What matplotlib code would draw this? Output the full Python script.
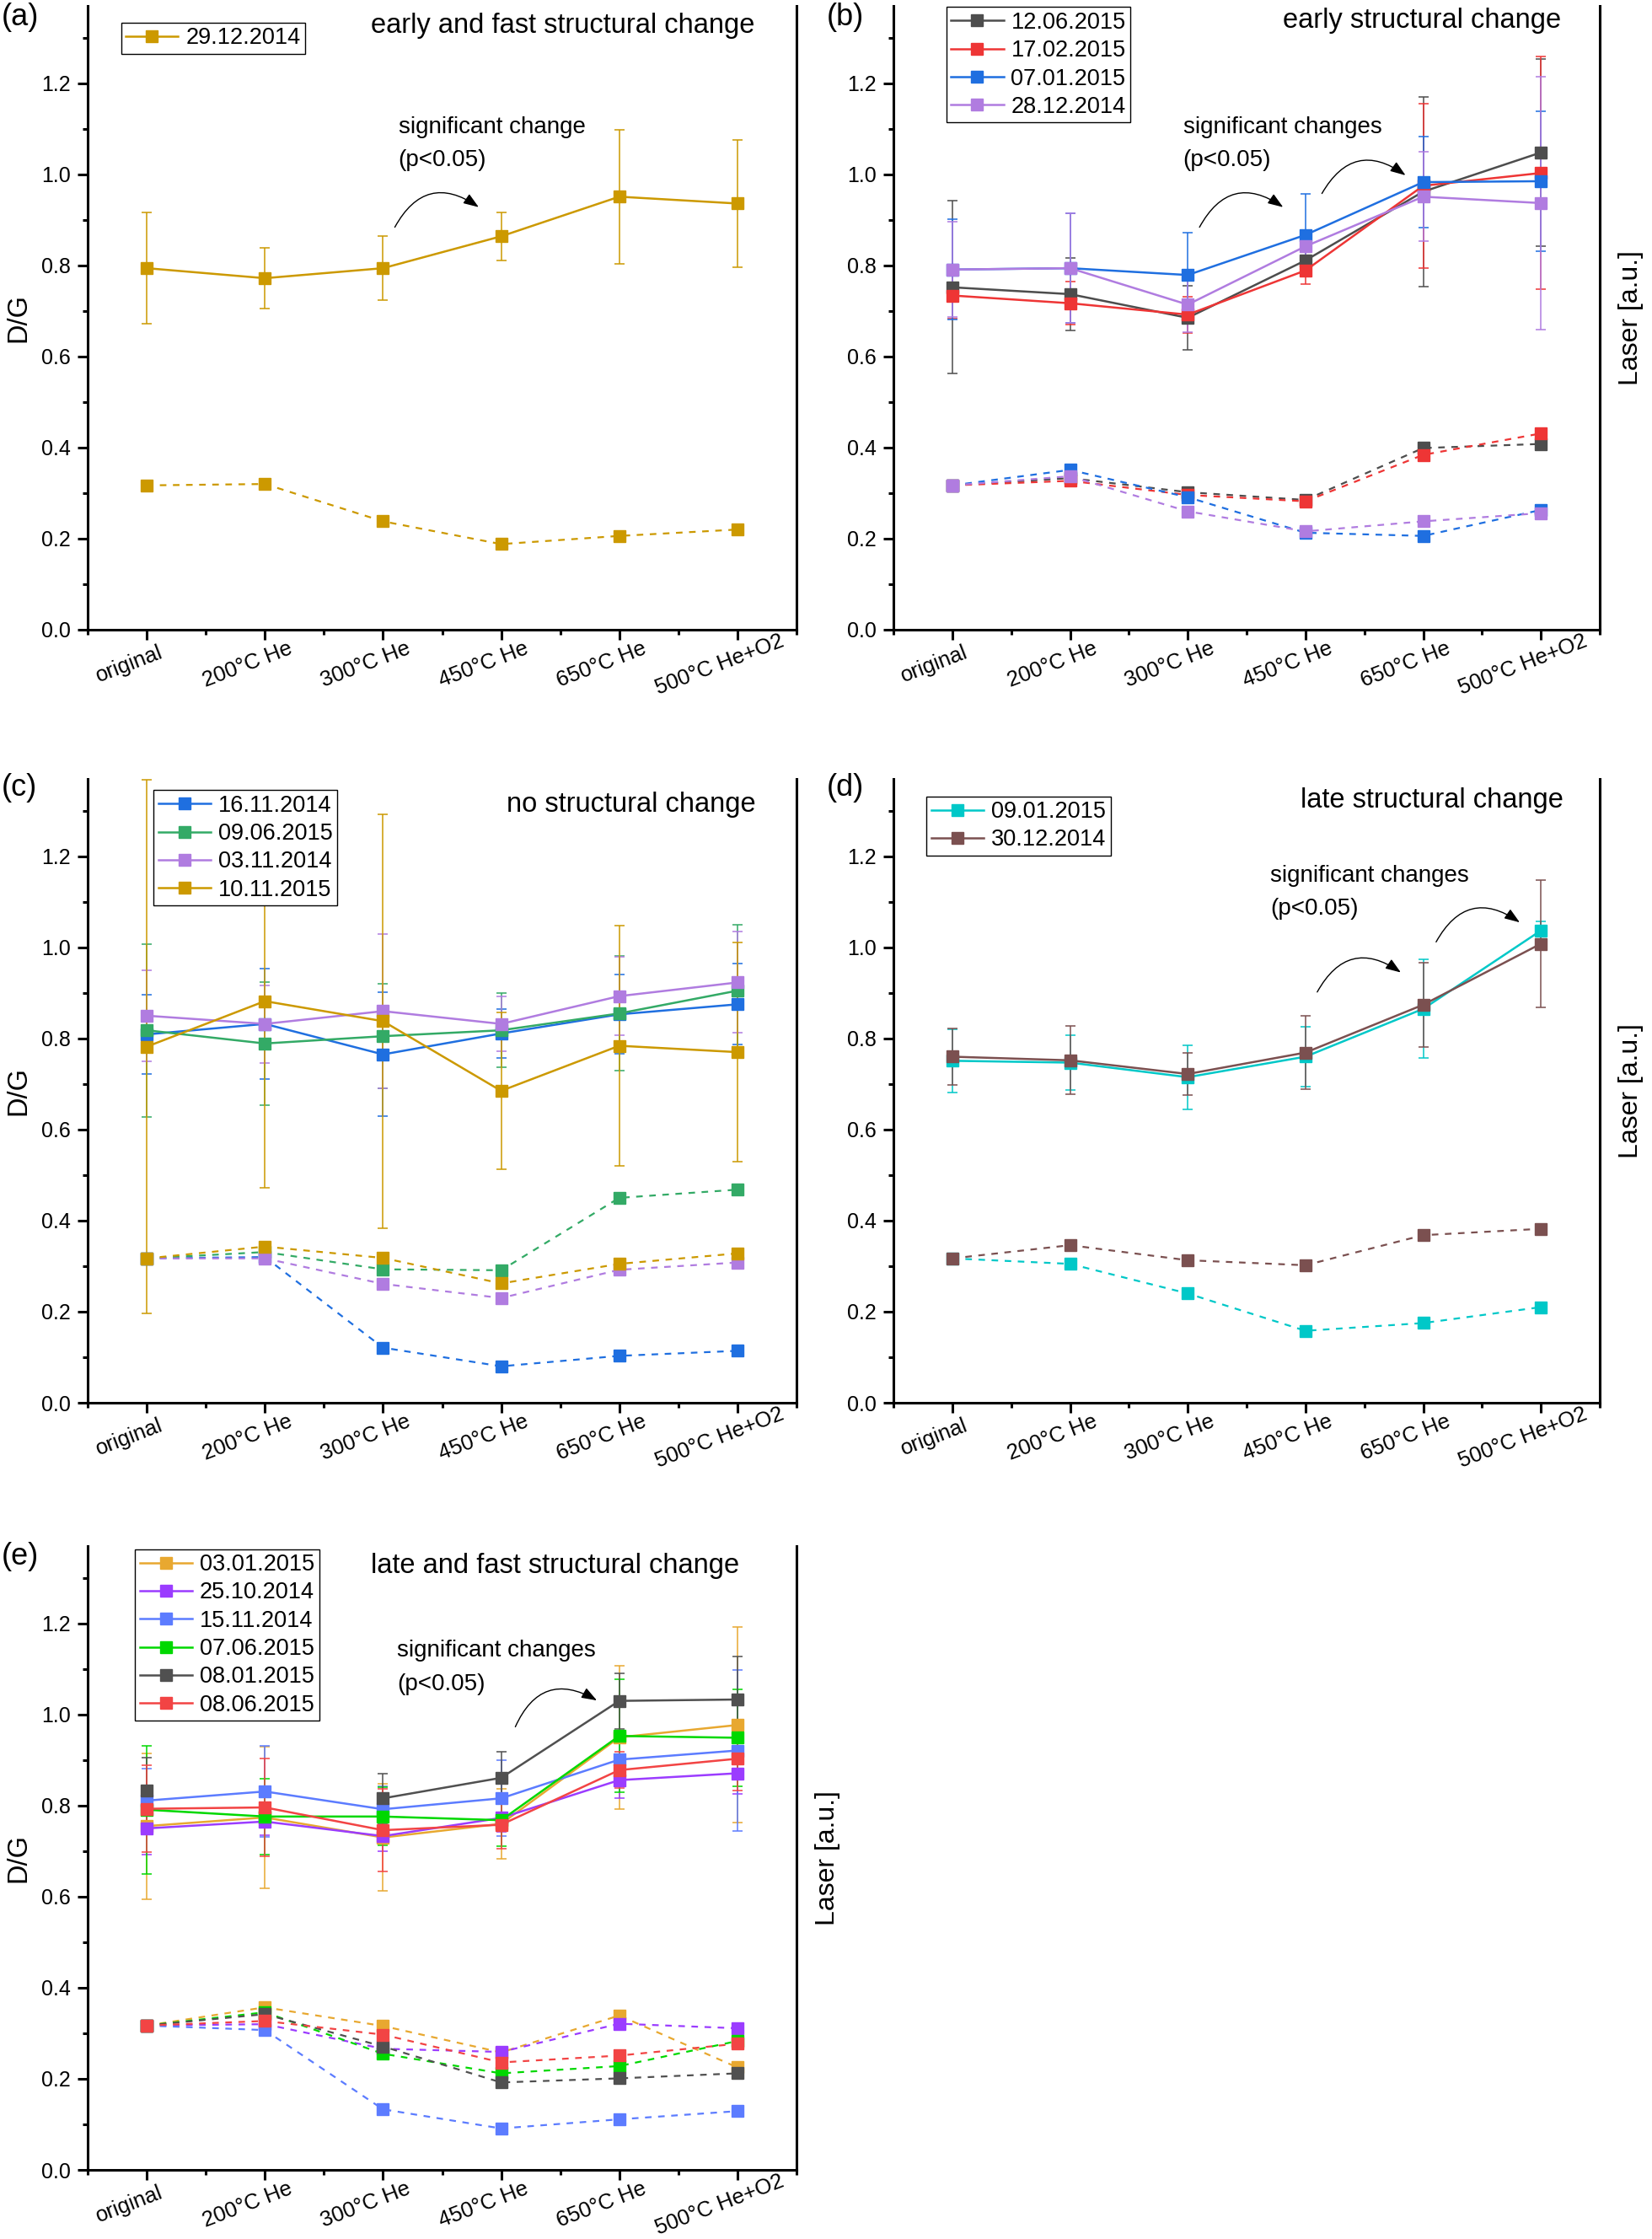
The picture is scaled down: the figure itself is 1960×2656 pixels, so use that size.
import numpy as np
import matplotlib
matplotlib.use('Agg')
import matplotlib.pyplot as plt
from matplotlib.transforms import ScaledTranslation

plt.rcParams['font.family'] = ['Liberation Sans', 'DejaVu Sans']

categories = ['original', '200°C He', '300°C He', '450°C He', '650°C He', '500°C He+O2']
nan = np.nan

# ---------------- panel (a) ----------------
a_labels = ['29.12.2014']
a_colors = ['#CC9900']
a_dg_1 = [0.794, 0.772, 0.794, 0.864, 0.951, 0.936]
a_err_1 = [0.122, 0.067, 0.070, 0.053, 0.147, 0.140]
a_laser_1 = [0.317, 0.320, 0.238, 0.188, 0.206, 0.220]

# ---------------- panel (b) ----------------
b_labels = ['12.06.2015', '17.02.2015', '07.01.2015', '28.12.2014']
b_colors = ['#4D4D4D', '#EE3535', '#1F6FE0', '#B07CE0']
b_dg_1 = [0.752, 0.737, 0.685, 0.811, 0.962, 1.048]
b_err_1 = [0.190, 0.079, 0.070, 0.035, 0.208, 0.206]
b_laser_1 = [0.317, 0.333, 0.302, 0.285, 0.399, 0.408]
b_dg_2 = [0.734, 0.717, 0.692, 0.789, 0.975, 1.003]
b_err_2 = [0.050, 0.047, 0.040, 0.030, 0.180, 0.255]
b_laser_2 = [0.317, 0.327, 0.296, 0.282, 0.384, 0.431]
b_dg_3 = [0.791, 0.794, 0.779, 0.867, 0.983, 0.985]
b_err_3 = [0.110, 0.120, 0.093, 0.090, 0.100, 0.153]
b_laser_3 = [0.317, 0.351, 0.291, 0.213, 0.206, 0.263]
b_dg_4 = [0.791, 0.794, 0.714, 0.842, 0.951, 0.937]
b_err_4 = [0.105, 0.120, 0.060, 0.030, 0.098, 0.277]
b_laser_4 = [0.317, 0.337, 0.260, 0.216, 0.238, 0.256]

# ---------------- panel (c) ----------------
c_labels = ['16.11.2014', '09.06.2015', '03.11.2014', '10.11.2015']
c_colors = ['#1F6FE0', '#33AA66', '#B07CE0', '#CC9900']
c_dg_1 = [0.809, 0.832, 0.765, 0.811, 0.853, 0.875]
c_err_1 = [0.087, 0.122, 0.136, 0.053, 0.087, 0.089]
c_laser_1 = [0.317, 0.320, 0.121, 0.080, 0.103, 0.114]
c_dg_2 = [0.818, 0.789, 0.805, 0.818, 0.855, 0.905]
c_err_2 = [0.190, 0.135, 0.115, 0.081, 0.126, 0.145]
c_laser_2 = [0.317, 0.331, 0.293, 0.291, 0.450, 0.468]
c_dg_3 = [0.850, 0.832, 0.860, 0.832, 0.893, 0.923]
c_err_3 = [0.100, 0.085, 0.170, 0.060, 0.086, 0.111]
c_laser_3 = [0.317, 0.317, 0.261, 0.230, 0.292, 0.308]
c_dg_4 = [0.782, 0.882, 0.838, 0.685, 0.784, 0.770]
c_err_4 = [0.586, 0.409, 0.455, 0.172, 0.263, 0.241]
c_laser_4 = [0.317, 0.343, 0.318, 0.262, 0.305, 0.328]

# ---------------- panel (d) ----------------
d_labels = ['09.01.2015', '30.12.2014']
d_colors = ['#00C8C8', '#7B5050']
d_dg_1 = [0.751, 0.747, 0.715, 0.760, 0.865, 1.037]
d_err_1 = [0.070, 0.060, 0.070, 0.066, 0.108, 0.020]
d_laser_1 = [0.317, 0.305, 0.240, 0.158, 0.175, 0.210]
d_dg_2 = [0.760, 0.752, 0.722, 0.769, 0.874, 1.008]
d_err_2 = [0.062, 0.075, 0.047, 0.080, 0.092, 0.139]
d_laser_2 = [0.317, 0.346, 0.313, 0.302, 0.368, 0.382]

# ---------------- panel (e) ----------------
e_labels = ['03.01.2015', '25.10.2014', '15.11.2014', '07.06.2015', '08.01.2015', '08.06.2015']
e_colors = ['#E8A830', '#9B3CFF', '#5C7CFF', '#00D800', '#505050', '#F24444']
e_dg_1 = [0.755, 0.774, 0.730, 0.760, 0.950, 0.977]
e_err_1 = [0.160, 0.155, 0.117, 0.077, 0.158, 0.215]
e_laser_1 = [0.317, 0.357, 0.316, 0.258, 0.339, 0.225]
e_dg_2 = [0.750, 0.765, 0.733, 0.773, 0.856, 0.871]
e_err_2 = [0.058, 0.030, 0.034, 0.030, 0.040, 0.046]
e_laser_2 = [0.317, 0.320, 0.266, 0.259, 0.321, 0.311]
e_dg_3 = [0.811, 0.831, 0.792, 0.816, 0.901, 0.921]
e_err_3 = [0.071, 0.100, 0.050, 0.083, 0.050, 0.177]
e_laser_3 = [0.317, 0.307, 0.133, 0.091, 0.111, 0.129]
e_dg_4 = [0.791, 0.776, 0.776, 0.768, 0.953, 0.949]
e_err_4 = [0.141, 0.083, 0.064, 0.058, 0.124, 0.106]
e_laser_4 = [0.317, 0.346, 0.255, 0.212, 0.228, 0.283]
e_dg_5 = [0.833, nan, 0.816, 0.861, 1.030, 1.033]
e_err_5 = [0.072, nan, 0.055, 0.057, 0.061, 0.095]
e_laser_5 = [0.317, 0.342, 0.271, 0.192, 0.201, 0.212]
e_dg_6 = [0.793, 0.796, 0.746, 0.758, 0.878, 0.903]
e_err_6 = [0.095, 0.108, 0.090, 0.052, 0.040, 0.070]
e_laser_6 = [0.317, 0.327, 0.297, 0.236, 0.251, 0.277]

W, H = 1960, 2656
fig = plt.figure(figsize=(W / 100, H / 100), dpi=100)

AX_H = 740
COL_L = {0: (104, 841), 1: (1060, 838)}
ROW_B = {0: 747, 1: 1664, 2: 2574}


def rect(col, row):
    l, w = COL_L[col]
    b = ROW_B[row]
    return [l / W, 1 - b / H, w / W, AX_H / H]


def draw_panel(r, labels, colors, dgs, errs, lasers, title, title_x, title_y,
               leg_anchor, sig_text=None, sig_xy=None, arrows=(), laser_label=False,
               dg_label=True):
    ax = fig.add_axes(r)
    x = np.arange(len(categories))
    handles = []
    for lab, c, d, e in zip(labels, colors, dgs, errs):
        ax.errorbar(x, d, yerr=e, fmt='none', ecolor=c, elinewidth=1.1,
                    capsize=4.5, capthick=1.1, zorder=2)
        ln, = ax.plot(x, d, '-s', color=c, lw=1.8, ms=9.4, label=lab, zorder=3)
        handles.append(ln)
    for c, l in zip(colors, lasers):
        ax.plot(x, l, color=c, lw=1.6, ls=(0, (3.5, 3.5)), marker='s', ms=9.4,
                zorder=3)
    ax.set_xlim(-0.5, 5.5)
    ax.set_ylim(0, 1.37)
    ax.set_yticks(np.arange(0, 1.21, 0.2))
    ax.set_yticklabels(['%.1f' % v for v in np.arange(0, 1.21, 0.2)])
    ax.set_yticks(np.arange(0.1, 1.36, 0.2), minor=True)
    ax.set_xticks(x)
    ax.set_xticks(np.arange(-0.5, 5.6, 1.0), minor=True)
    ax.set_xticklabels(categories)
    ax.spines['top'].set_visible(False)
    for s in ['left', 'bottom', 'right']:
        ax.spines[s].set_linewidth(2.2)
    ax.tick_params(which='major', direction='out', length=8.6, width=2.2,
                   labelsize=18.5, right=False, top=False)
    ax.tick_params(which='minor', direction='out', length=4.3, width=2.2,
                   right=False, top=False)
    ax.tick_params(axis='y', pad=6.0, labelsize=18)
    ax.tick_params(axis='x', pad=21.0)
    off = ScaledTranslation(-0.21, 0, fig.dpi_scale_trans)
    for lab in ax.get_xticklabels():
        lab.set_rotation(21)
        lab.set_ha('center')
        lab.set_va('center')
        lab.set_transform(lab.get_transform() + off)
    if dg_label:
        ax.set_ylabel('D/G', fontsize=23.5, labelpad=8)
    leg = ax.legend(handles=handles, loc='upper left', bbox_to_anchor=leg_anchor,
                    borderaxespad=0, frameon=True, fancybox=False,
                    edgecolor='black', framealpha=1, fontsize=19.5,
                    handlelength=2.3, handletextpad=0.33, borderpad=0.2,
                    labelspacing=0.27, numpoints=1)
    leg.get_frame().set_linewidth(1.0)
    leg.set_zorder(10)
    ax.text(title_x, title_y, title, ha='center', va='center', fontsize=23.5)
    if sig_text:
        ax.text(sig_xy[0], sig_xy[1], sig_text, ha='left', va='center', fontsize=20)
        ax.text(sig_xy[0], sig_xy[2], '(p<0.05)', ha='left', va='center', fontsize=20)
    for (sx, sy, ex, ey) in arrows:
        ax.annotate('', xy=(ex, ey), xytext=(sx, sy),
                    arrowprops=dict(arrowstyle='-|>,head_length=0.55,head_width=0.2',
                                    connectionstyle='arc3,rad=-0.55', color='black',
                                    lw=1.0, shrinkA=0, shrinkB=0, mutation_scale=20))
    if laser_label:
        tw = ax.twinx()
        tw.set_ylim(0, 1.37)
        tw.set_yticks([])
        for s in tw.spines.values():
            s.set_visible(False)
        tw.set_ylabel('Laser [a.u.]', fontsize=23, labelpad=16)
    return ax


draw_panel(rect(0, 0), a_labels, a_colors, [a_dg_1], [a_err_1], [a_laser_1],
           'early and fast structural change', 3.525, 1.326, (0.047, 0.973),
           'significant change', (2.13, 1.103, 1.031),
           arrows=[(2.10, 0.884, 2.81, 0.928)])

draw_panel(rect(1, 0), b_labels, b_colors,
           [b_dg_1, b_dg_2, b_dg_3, b_dg_4], [b_err_1, b_err_2, b_err_3, b_err_4],
           [b_laser_1, b_laser_2, b_laser_3, b_laser_4],
           'early structural change', 3.99, 1.338, (0.075, 0.998),
           'significant changes', (1.96, 1.103, 1.031),
           arrows=[(2.10, 0.884, 2.81, 0.928), (3.14, 0.958, 3.85, 0.998)],
           laser_label=True, dg_label=False)

draw_panel(rect(0, 1), c_labels, c_colors,
           [c_dg_1, c_dg_2, c_dg_3, c_dg_4], [c_err_1, c_err_2, c_err_3, c_err_4],
           [c_laser_1, c_laser_2, c_laser_3, c_laser_4],
           'no structural change', 4.10, 1.313, (0.093, 0.982))

draw_panel(rect(1, 1), d_labels, d_colors,
           [d_dg_1, d_dg_2], [d_err_1, d_err_2], [d_laser_1, d_laser_2],
           'late structural change', 4.075, 1.323, (0.047, 0.972),
           'significant changes', (2.70, 1.158, 1.085),
           arrows=[(3.10, 0.902, 3.81, 0.945), (4.11, 1.012, 4.82, 1.055)],
           laser_label=True, dg_label=False)

draw_panel(rect(0, 2), e_labels, e_colors,
           [e_dg_1, e_dg_2, e_dg_3, e_dg_4, e_dg_5, e_dg_6],
           [e_err_1, e_err_2, e_err_3, e_err_4, e_err_5, e_err_6],
           [e_laser_1, e_laser_2, e_laser_3, e_laser_4, e_laser_5, e_laser_6],
           'late and fast structural change', 3.46, 1.326, (0.067, 0.995),
           'significant changes', (2.12, 1.141, 1.066),
           arrows=[(3.12, 0.973, 3.81, 1.031)],
           laser_label=True)

for txt, px, py in [('(a)', 2, 21), ('(b)', 981, 21), ('(c)', 2, 935),
                    ('(d)', 981, 935), ('(e)', 2, 1847)]:
    fig.text(px / W, 1 - py / H, txt, ha='left', va='center', fontsize=26)

fig.savefig('out.png', dpi=100)
